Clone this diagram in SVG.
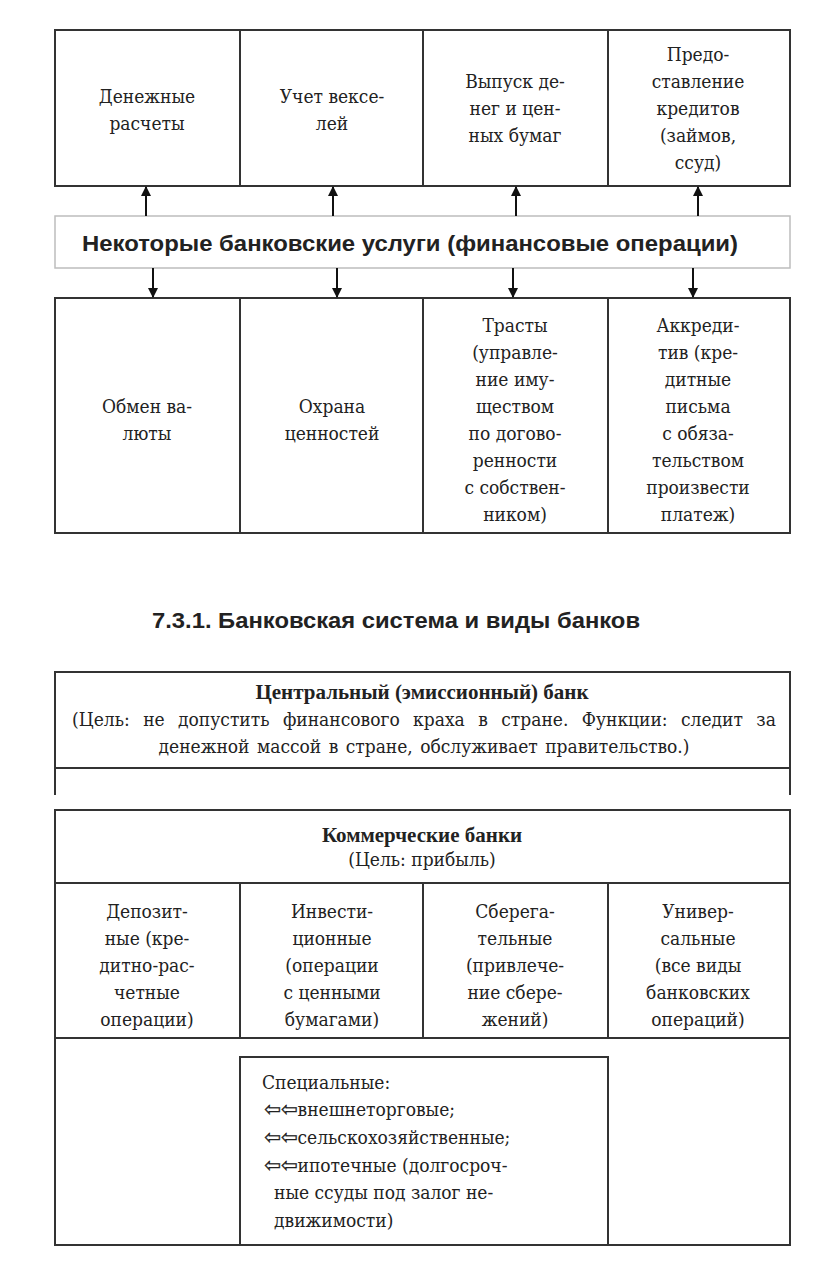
<svg xmlns="http://www.w3.org/2000/svg" width="816" height="1277" viewBox="0 0 816 1277">
<defs>
<style>
.b{fill:none;stroke:#333;stroke-width:2}
.lg{fill:#fff;stroke:#bdbdbd;stroke-width:1.5}
.t{font-family:"DejaVu Serif","Liberation Serif",serif;font-stretch:condensed;font-size:19px;fill:#222;text-anchor:middle}
.tb{font-family:"Liberation Serif","Times New Roman","DejaVu Serif",serif;font-size:21px;fill:#222;text-anchor:middle;font-weight:bold}
.tl{font-family:"DejaVu Serif","Liberation Serif",serif;font-stretch:condensed;font-size:19px;fill:#222}
.ar{font-family:"DejaVu Sans",sans-serif;font-size:20px;font-stretch:normal;stroke:#222;stroke-width:0.3}
.s{font-family:"Liberation Sans",Arial,sans-serif;font-weight:bold;fill:#222;text-anchor:middle}
.c{stroke:#111;stroke-width:2;fill:none}
</style>
<marker id="ah" viewBox="0 0 10 10" refX="9" refY="5" markerWidth="10" markerHeight="10" markerUnits="userSpaceOnUse" orient="auto">
<path d="M0,0 L10,5 L0,10 Z" fill="#111"/>
</marker>
</defs>
<rect width="816" height="1277" fill="#fff"/>

<g id="top-row">
<rect class="b" x="55" y="30" width="735" height="156"/>
<line class="b" x1="240" y1="30" x2="240" y2="186"/>
<line class="b" x1="423" y1="30" x2="423" y2="186"/>
<line class="b" x1="608" y1="30" x2="608" y2="186"/>
</g>
<g id="n-dengi"><text class="t" x="147" y="103">Денежные</text><text class="t" x="147" y="130">расчеты</text></g>
<g id="n-uchet"><text class="t" x="332" y="103">Учет вексе-</text><text class="t" x="332" y="130">лей</text></g>
<g id="n-vypusk"><text class="t" x="515" y="88">Выпуск де-</text><text class="t" x="515" y="115">нег и цен-</text><text class="t" x="515" y="142">ных бумаг</text></g>
<g id="n-kredit"><text class="t" x="698" y="61">Предо-</text><text class="t" x="698" y="88">ставление</text><text class="t" x="698" y="115">кредитов</text><text class="t" x="698" y="142">(займов,</text><text class="t" x="698" y="169">ссуд)</text></g>

<g id="n-bar">
<rect class="lg" x="55" y="216" width="735" height="52"/>
<text class="s" x="410" y="251" font-size="22" textLength="656" lengthAdjust="spacingAndGlyphs">Некоторые банковские услуги (финансовые операции)</text>
</g>

<g id="bottom-row">
<rect class="b" x="55" y="298" width="735" height="235"/>
<line class="b" x1="240" y1="298" x2="240" y2="533"/>
<line class="b" x1="423" y1="298" x2="423" y2="533"/>
<line class="b" x1="608" y1="298" x2="608" y2="533"/>
</g>
<g id="n-obmen"><text class="t" x="147" y="413">Обмен ва-</text><text class="t" x="147" y="440">люты</text></g>
<g id="n-ohrana"><text class="t" x="332" y="413">Охрана</text><text class="t" x="332" y="440">ценностей</text></g>
<g id="n-trast"><text class="t" x="515" y="332">Трасты</text><text class="t" x="515" y="359">(управле-</text><text class="t" x="515" y="386">ние иму-</text><text class="t" x="515" y="413">ществом</text><text class="t" x="515" y="440">по догово-</text><text class="t" x="515" y="467">ренности</text><text class="t" x="515" y="494">с собствен-</text><text class="t" x="515" y="521">ником)</text></g>
<g id="n-akkred"><text class="t" x="698" y="332">Аккреди-</text><text class="t" x="698" y="359">тив (кре-</text><text class="t" x="698" y="386">дитные</text><text class="t" x="698" y="413">письма</text><text class="t" x="698" y="440">с обяза-</text><text class="t" x="698" y="467">тельством</text><text class="t" x="698" y="494">произвести</text><text class="t" x="698" y="521">платеж)</text></g>

<g id="connectors">
<line class="c" x1="146" y1="216" x2="146" y2="187" marker-end="url(#ah)"/>
<line class="c" x1="333" y1="216" x2="333" y2="187" marker-end="url(#ah)"/>
<line class="c" x1="516" y1="216" x2="516" y2="187" marker-end="url(#ah)"/>
<line class="c" x1="698" y1="216" x2="698" y2="187" marker-end="url(#ah)"/>
<line class="c" x1="153" y1="268" x2="153" y2="297" marker-end="url(#ah)"/>
<line class="c" x1="337" y1="268" x2="337" y2="297" marker-end="url(#ah)"/>
<line class="c" x1="513" y1="268" x2="513" y2="297" marker-end="url(#ah)"/>
<line class="c" x1="693" y1="268" x2="693" y2="297" marker-end="url(#ah)"/>
</g>

<text class="s" x="396" y="628" font-size="22" textLength="488" lengthAdjust="spacingAndGlyphs">7.3.1. Банковская система и виды банков</text>

<g id="n-central">
<path class="b" d="M55,795 V672 H790 V795 M55,768 H790"/>
<text class="tb" x="422" y="699">Центральный (эмиссионный) банк</text>
<text class="t" x="424" y="726" word-spacing="8">(Цель: не допустить финансового краха в стране. Функции: следит за</text>
<text class="t" x="424" y="753" word-spacing="2">денежной массой в стране, обслуживает правительство.)</text>
</g>

<g id="n-commercial">
<rect class="b" x="55" y="810" width="735" height="435"/>
<line class="b" x1="55" y1="883" x2="790" y2="883"/>
<line class="b" x1="55" y1="1038" x2="790" y2="1038"/>
<line class="b" x1="240" y1="883" x2="240" y2="1038"/>
<line class="b" x1="423" y1="883" x2="423" y2="1038"/>
<line class="b" x1="608" y1="883" x2="608" y2="1038"/>
<text class="tb" x="422" y="842">Коммерческие банки</text>
<text class="t" x="422" y="866">(Цель: прибыль)</text>
</g>
<g id="n-depozit"><text class="t" x="147" y="918">Депозит-</text><text class="t" x="147" y="945">ные (кре-</text><text class="t" x="147" y="972">дитно-рас-</text><text class="t" x="147" y="999">четные</text><text class="t" x="147" y="1026">операции)</text></g>
<g id="n-invest"><text class="t" x="332" y="918">Инвести-</text><text class="t" x="332" y="945">ционные</text><text class="t" x="332" y="972">(операции</text><text class="t" x="332" y="999">с ценными</text><text class="t" x="332" y="1026">бумагами)</text></g>
<g id="n-sber"><text class="t" x="515" y="918">Сберега-</text><text class="t" x="515" y="945">тельные</text><text class="t" x="515" y="972">(привлече-</text><text class="t" x="515" y="999">ние сбере-</text><text class="t" x="515" y="1026">жений)</text></g>
<g id="n-univ"><text class="t" x="698" y="918">Универ-</text><text class="t" x="698" y="945">сальные</text><text class="t" x="698" y="972">(все виды</text><text class="t" x="698" y="999">банковских</text><text class="t" x="698" y="1026">операций)</text></g>

<g id="n-special">
<path class="b" d="M240,1245 V1057 H608 V1245"/>
<text class="tl" x="262" y="1089">Специальные:</text>
<text class="tl" x="264" y="1116"><tspan class="ar">⇦⇦</tspan>внешнеторговые;</text>
<text class="tl" x="264" y="1144"><tspan class="ar">⇦⇦</tspan>сельскохозяйственные;</text>
<text class="tl" x="264" y="1172"><tspan class="ar">⇦⇦</tspan>ипотечные (долгосроч-</text>
<text class="tl" x="274" y="1199">ные ссуды под залог не-</text>
<text class="tl" x="274" y="1227">движимости)</text>
</g>
</svg>
